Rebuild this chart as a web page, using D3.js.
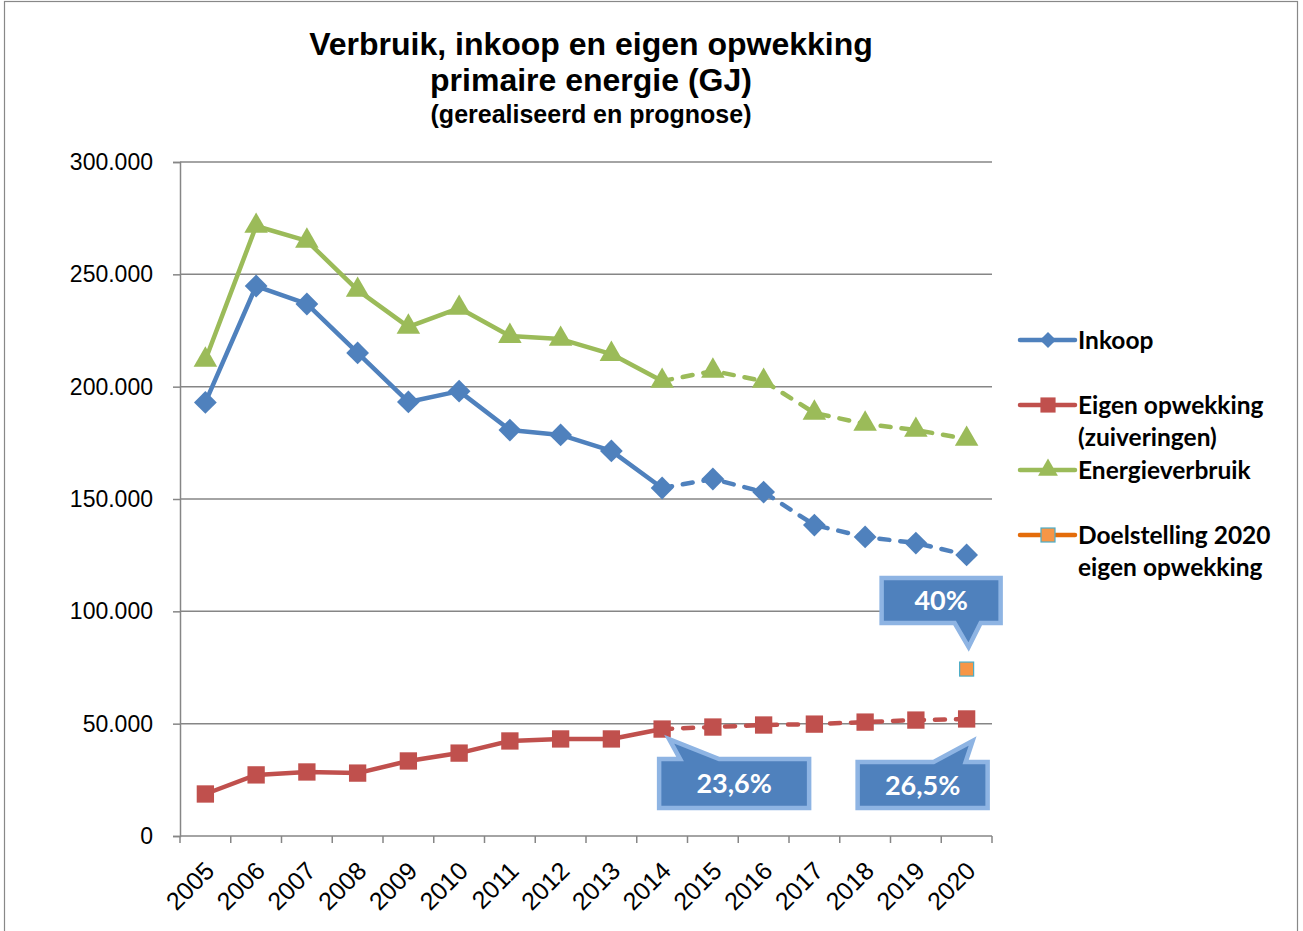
<!DOCTYPE html>
<html>
<head>
<meta charset="utf-8">
<script src="https://cdn.jsdelivr.net/npm/d3@7"></script>
<style>
  body { margin: 0; background: #fff; }
  svg { display: block; }
</style>
</head>
<body>
<div id="chart"></div>
<script>
// data (GJ)
var years = ["2005","2006","2007","2008","2009","2010","2011","2012","2013","2014","2015","2016","2017","2018","2019","2020"];
var inkoop = [193000,244800,236800,215000,193200,198000,180700,178500,171400,154900,158900,153100,138400,133100,130400,125100];
var eigen = [18700,27200,28500,28000,33400,36900,42300,43200,43200,47600,48500,49400,49800,50700,51600,52100];
var energie = [211900,271500,264900,243000,226600,235000,222500,221200,214500,202500,207000,202500,188300,183400,180700,176700];
var doelstelling = [{ year: "2020", value: 74300 }];
var yTicks = [0,50000,100000,150000,200000,250000,300000];
var lastRealised = "2014";   // from here on the lines are prognosis (dashed)

var callouts = [
  { text: "40%",   year: "2020", value: 74300, dx: -85, dy: -91, w: 119, h: 45, side: "bottom", b0: 73, b1: 99, tx: 2, ty: -22 },
  { text: "23,6%", year: "2014", value: 47600, dx: -3,  dy: 30,  w: 150, h: 49, side: "top",    b0: 21, b1: 60, tx: 7, ty: 10 },
  { text: "26,5%", year: "2020", value: 52100, dx: -109, dy: 43, w: 130, h: 46, side: "top",    b0: 76, b1: 108, tx: 6, ty: 22 }
];

var W = 1303, H = 931;
var plotLeft = 180, plotRight = 992, plotTop = 162, plotBottom = 836;

var svg = d3.select("#chart").append("svg")
    .attr("width", W)
    .attr("height", H);

svg.append("rect")
    .attr("x", 4.5).attr("y", 1.5)
    .attr("width", 1293).attr("height", 940)
    .attr("fill", "#fff")
    .attr("stroke", "#888").attr("stroke-width", 1.2);

var x = d3.scaleBand().domain(years).range([plotLeft, plotRight]);
var y = d3.scaleLinear().domain([0, 300000]).range([plotBottom, plotTop]);
var cx = function(yr) { return x(yr) + x.bandwidth() / 2; };

var nl = d3.formatLocale({ decimal: ",", thousands: ".", grouping: [3], currency: ["€", ""] });
var fmt = nl.format(",.0f");

// title
var title = svg.append("g")
    .attr("font-family", "Liberation Sans, Arial, sans-serif")
    .attr("font-weight", "bold")
    .attr("text-anchor", "middle")
    .attr("fill", "#000");
title.append("text").attr("x", 591).attr("y", 55).attr("font-size", 32).text("Verbruik, inkoop en eigen opwekking");
title.append("text").attr("x", 591).attr("y", 91).attr("font-size", 32).text("primaire energie (GJ)");
title.append("text").attr("x", 591).attr("y", 123).attr("font-size", 25).text("(gerealiseerd en prognose)");

// gridlines
svg.append("g")
  .selectAll("line")
  .data(yTicks.filter(function(d) { return d > 0; }))
  .enter().append("line")
    .attr("x1", plotLeft).attr("x2", plotRight)
    .attr("y1", function(d) { return y(d); })
    .attr("y2", function(d) { return y(d); })
    .attr("stroke", "#868686").attr("stroke-width", 1.5);

// y axis
var yAxis = svg.append("g")
    .attr("transform", "translate(" + plotLeft + ",0)")
    .call(d3.axisLeft(y).tickValues(yTicks).tickSize(7).tickPadding(20)
          .tickFormat(function(d) { return d === 0 ? "0" : fmt(d); }));
yAxis.select(".domain").attr("stroke", "#868686").attr("stroke-width", 1.5);
yAxis.selectAll(".tick line").attr("stroke", "#868686").attr("stroke-width", 1.5);
yAxis.selectAll("text")
    .attr("font-family", "Liberation Sans, Arial, sans-serif")
    .attr("font-size", 23).attr("fill", "#000");

// x axis: ticks on band edges
var xg = svg.append("g");
xg.append("line")
    .attr("x1", plotLeft).attr("x2", plotRight)
    .attr("y1", plotBottom).attr("y2", plotBottom)
    .attr("stroke", "#868686").attr("stroke-width", 1.5);
xg.selectAll(".xtick")
  .data(years.concat(["end"]))
  .enter().append("line")
    .attr("class", "xtick")
    .attr("x1", function(d) { return d === "end" ? plotRight : x(d); })
    .attr("x2", function(d) { return d === "end" ? plotRight : x(d); })
    .attr("y1", plotBottom).attr("y2", plotBottom + 7)
    .attr("stroke", "#868686").attr("stroke-width", 1.5);
xg.selectAll(".xlabel")
  .data(years)
  .enter().append("text")
    .attr("class", "xlabel")
    .attr("transform", function(d) { return "translate(" + (cx(d) - 2) + "," + (plotBottom + 24) + ") rotate(-45)"; })
    .attr("text-anchor", "end")
    .attr("dy", "0.7em")
    .attr("font-family", "Liberation Sans, Arial, sans-serif")
    .attr("font-size", 25)
    .attr("fill", "#000")
    .text(function(d) { return d; });

// series (diamond = square turned 45 degrees)
var series = [
  { name: "Energieverbruik", values: energie, color: "#9bbb59", marker: d3.symbolTriangle, size: 240, rot: 0 },
  { name: "Inkoop", values: inkoop, color: "#4f81bd", marker: d3.symbolSquare, size: 260, rot: 45 },
  { name: "Eigen opwekking", values: eigen, color: "#c0504d", marker: d3.symbolSquare, size: 300, rot: 0 }
];

var line = d3.line()
    .x(function(d) { return cx(d.year); })
    .y(function(d) { return y(d.value); });

var split = years.indexOf(lastRealised);

series.forEach(function(s) {
  var pts = years.map(function(yr, i) { return { year: yr, value: s.values[i] }; });
  var g = svg.append("g");
  g.append("path")
      .datum(pts.slice(0, split + 1))
      .attr("d", line)
      .attr("fill", "none")
      .attr("stroke", s.color)
      .attr("stroke-width", 4.5)
      .attr("stroke-linejoin", "round");
  g.append("path")
      .datum(pts.slice(split))
      .attr("d", line)
      .attr("fill", "none")
      .attr("stroke", s.color)
      .attr("stroke-width", 4.5)
      .attr("stroke-linecap", "round")
      .attr("stroke-dasharray", "10,11");
  g.selectAll(".marker")
    .data(pts)
    .enter().append("path")
      .attr("class", "marker")
      .attr("transform", function(d) { return "translate(" + cx(d.year) + "," + y(d.value) + ") rotate(" + s.rot + ")"; })
      .attr("d", d3.symbol().type(s.marker).size(s.size))
      .attr("fill", s.color);
});

// target point
svg.selectAll(".target")
  .data(doelstelling)
  .enter().append("rect")
    .attr("class", "target")
    .attr("x", function(d) { return cx(d.year) - 7; })
    .attr("y", function(d) { return y(d.value) - 7; })
    .attr("width", 14).attr("height", 14)
    .attr("fill", "#f79646")
    .attr("stroke", "#4bacc6").attr("stroke-width", 1.2);

// callouts
function calloutPath(c) {
  var x0 = c.dx, y0 = c.dy, x1 = c.dx + c.w, y1 = c.dy + c.h;
  if (c.side === "bottom") {
    return "M" + x0 + "," + y0 + "H" + x1 + "V" + y1 +
           "H" + (x0 + c.b1) + "L" + c.tx + "," + c.ty + "L" + (x0 + c.b0) + "," + y1 +
           "H" + x0 + "Z";
  }
  return "M" + x0 + "," + y0 + "H" + (x0 + c.b0) + "L" + c.tx + "," + c.ty +
         "L" + (x0 + c.b1) + "," + y0 + "H" + x1 + "V" + y1 + "H" + x0 + "Z";
}

var cg = svg.selectAll(".callout")
  .data(callouts)
  .enter().append("g")
    .attr("class", "callout")
    .attr("transform", function(d) { return "translate(" + cx(d.year) + "," + y(d.value) + ")"; });
cg.append("path")
    .attr("d", calloutPath)
    .attr("fill", "#4f81bd")
    .attr("stroke", "#8eb4e3")
    .attr("stroke-width", 4.5)
    .attr("stroke-linejoin", "miter");
cg.append("text")
    .attr("x", function(d) { return d.dx + d.w / 2; })
    .attr("y", function(d) { return d.dy + d.h / 2; })
    .attr("dy", "0.36em")
    .attr("text-anchor", "middle")
    .attr("font-family", "Lato, Carlito, sans-serif")
    .attr("font-weight", "bold")
    .attr("font-size", 27)
    .attr("fill", "#fff")
    .text(function(d) { return d.text; });

// legend
var legendItems = [
  { lines: ["Inkoop"], color: "#4f81bd", marker: d3.symbolSquare, size: 130, rot: 45, y: 340 },
  { lines: ["Eigen opwekking", "(zuiveringen)"], color: "#c0504d", marker: d3.symbolSquare, size: 230, rot: 0, y: 405 },
  { lines: ["Energieverbruik"], color: "#9bbb59", marker: d3.symbolTriangle, size: 170, rot: 0, y: 470 },
  { lines: ["Doelstelling 2020", "eigen opwekking"], color: "#e46c0a", target: true, y: 535 }
];

var lg = svg.selectAll(".legend")
  .data(legendItems)
  .enter().append("g")
    .attr("class", "legend")
    .attr("transform", function(d) { return "translate(1020," + d.y + ")"; });
lg.append("line")
    .attr("x1", 0).attr("x2", 55)
    .attr("stroke", function(d) { return d.color; })
    .attr("stroke-width", 4.5)
    .attr("stroke-linecap", "round");
lg.filter(function(d) { return !d.target; }).append("path")
    .attr("transform", function(d) { return "translate(28,0) rotate(" + d.rot + ")"; })
    .attr("d", function(d) { return d3.symbol().type(d.marker).size(d.size)(); })
    .attr("fill", function(d) { return d.color; });
lg.filter(function(d) { return d.target; }).append("rect")
    .attr("x", 21).attr("y", -7).attr("width", 14).attr("height", 14)
    .attr("fill", "#f79646")
    .attr("stroke", "#4bacc6").attr("stroke-width", 1.2);
lg.each(function(d) {
  var t = d3.select(this).append("text")
      .attr("x", 58)
      .attr("font-family", "Lato, Carlito, sans-serif")
      .attr("font-weight", "bold")
      .attr("font-size", 24.5)
      .attr("fill", "#000");
  d.lines.forEach(function(l, i) {
    t.append("tspan").attr("x", 58).attr("y", i * 32).attr("dy", "0.35em").text(l);
  });
});
</script>
</body>
</html>
